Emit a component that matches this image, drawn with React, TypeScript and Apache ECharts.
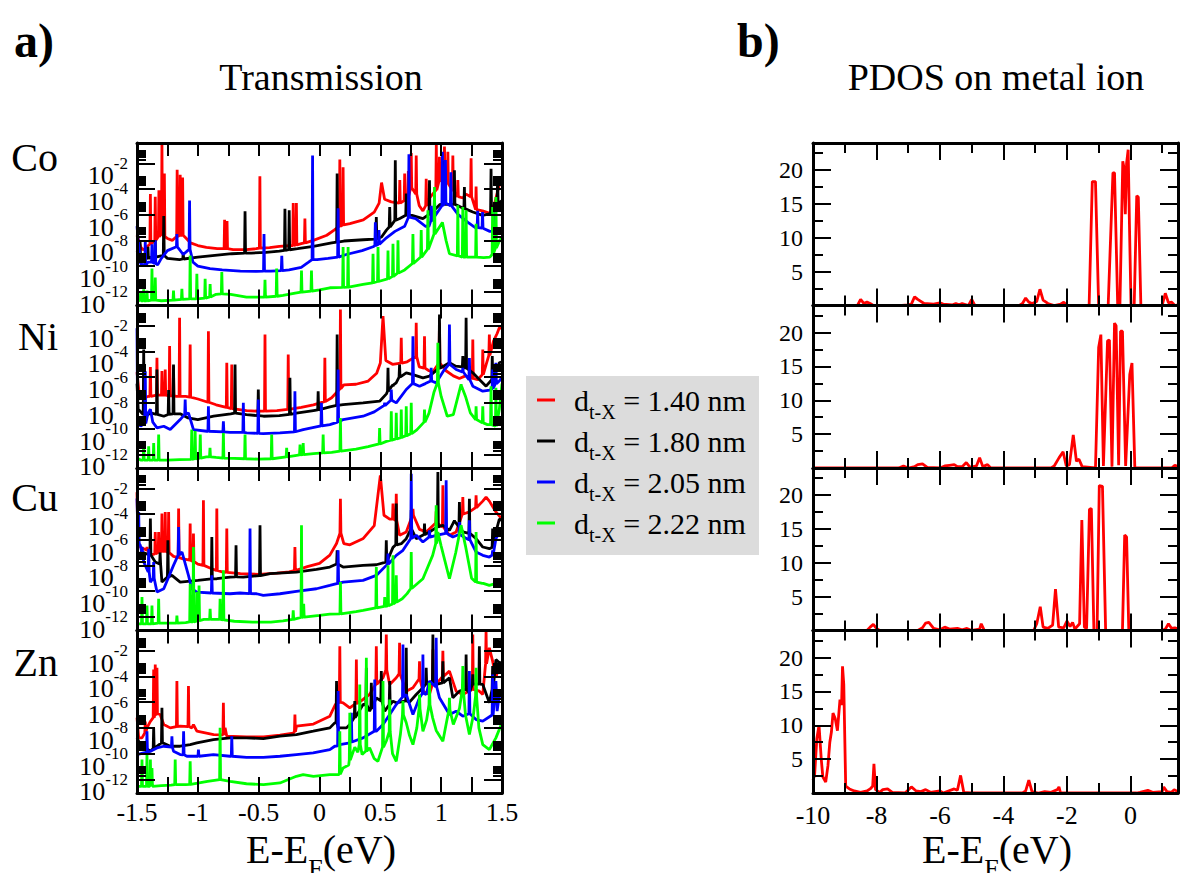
import React, { useEffect, useRef } from "react";
import * as echarts from "echarts";

const FONT = "'Liberation Serif', 'Times New Roman', serif";

const metals = ["Co", "Ni", "Cu", "Zn"];
const distances = ["1.40 nm", "1.80 nm", "2.05 nm", "2.22 nm"];
const lineColors = ["#ff0000", "#000000", "#0000ff", "#00ff00"];

// axis tick / label values
const transXTicks = [-1.25, -1, -0.75, -0.5, -0.25, 0, 0.25, 0.5, 0.75, 1, 1.25];
const transXLabels = [-1.5, -1, -0.5, 0, 0.5, 1, 1.5];
const logMajor = [-12, -10, -8, -6, -4, -2];
const logLabelsA = [-12, -8, -4];
const logLabelsB = [-10, -6, -2];
const logMinorFactors = [2, 3, 4, 5, 6, 7, 8, 9];
const pdosXMajor = [-8, -6, -4, -2, 0];
const pdosXMinor = [-9, -7, -5, -3, -1, 1];
const pdosXLabels = [-10, -8, -6, -4, -2, 0];
const pdosYMajor = [5, 10, 15, 20];
const pdosYMinor = [2.5, 7.5, 12.5, 17.5, 22.5];

// Transmission: entries are [E-EF (eV), log10 T] or a resonance [E-EF, log10 T base, log10 T peak]
const co140 = [
  [-1.5, -7.6], [-1.47, -8.5], [-1.45, -8.75], [-1.42, -8.5],
  [-1.39, -8.3, -4.4], [-1.35, -8.0, -4.6], [-1.32, -7.7, -4.1], [-1.295, -7.5, -0.4], [-1.275, -7.7, -2.8],
  [-1.25, -7.85], [-1.21, -8.0],
  [-1.17, -7.7, -2.5], [-1.145, -7.6, -2.9], [-1.125, -7.6, -3.1],
  [-1.1, -7.8], [-1.06, -8.2], [-1.0, -8.4], [-0.93, -8.55], [-0.84, -8.65],
  [-0.78, -8.65, -6.4], [-0.76, -8.65, -6.5],
  [-0.71, -8.72], [-0.6, -8.72], [-0.52, -8.65],
  [-0.49, -8.6, -3.0],
  [-0.41, -8.57], [-0.33, -8.47],
  [-0.216, -8.4, -5.1], [-0.19, -8.35, -5.1],
  [-0.15, -8.26], [-0.12, -8.2, -6.3],
  [-0.05, -8.0], [0.06, -7.6], [0.12, -7.2],
  [0.167, -6.9, -1.7], [0.194, -6.8, -2.3],
  [0.25, -6.7], [0.36, -6.4], [0.45, -5.8], [0.49, -5.1], [0.51, -3.5], [0.535, -4.8], [0.59, -5.0],
  [0.66, -5.1, -3.3], [0.7, -4.9, -2.8], [0.73, -4.5, -2.6], [0.754, -3.9, -1.2], [0.795, -4.4, -1.4],
  [0.82, -5.3], [0.85, -5.7], [0.877, -5.3, -3.2], [0.905, -4.7],
  [0.96, -4.1, -0.5], [0.986, -3.4, -1.5], [1.027, -3.1, -0.7], [1.055, -3.6, -1.1], [1.096, -4.1, -1.4], [1.137, -4.6, -3.3],
  [1.178, -4.7], [1.205, -4.4], [1.246, -4.6, -1.6], [1.287, -5.6, -3.8],
  [1.34, -5.7], [1.4, -5.9], [1.44, -5.1], [1.48, -3.6], [1.5, -3.2],
];
const co180 = [
  [-1.5, -8.8], [-1.475, -9.2, -8.0], [-1.45, -9.4], [-1.41, -9.4, -8.5], [-1.38, -9.3], [-1.35, -9.3, -8.0],
  [-1.28, -9.17, -6.1], [-1.25, -9.4], [-1.15, -9.5], [-1.12, -9.45, -9.0], [-1.0, -9.3], [-0.86, -9.17], [-0.72, -9.04],
  [-0.612, -8.99, -5.74], [-0.56, -8.99], [-0.44, -8.94], [-0.33, -8.83],
  [-0.284, -8.78, -5.53], [-0.249, -8.73, -5.66], [-0.18, -8.65], [-0.05, -8.47], [0.1, -8.2],
  [0.145, -8.13, -2.8], [0.2, -8.05], [0.36, -7.95], [0.45, -7.9], [0.467, -7.87, -6.18], [0.51, -7.74], [0.55, -7.2],
  [0.577, -6.96, -5.4], [0.623, -6.44, -1.77], [0.66, -6.3], [0.713, -6.05, -4.36], [0.76, -6.05], [0.85, -6.31],
  [0.904, -5.97, -3.32], [0.99, -5.2], [1.027, -5.2, -1.8], [1.109, -5.2, -2.55], [1.14, -5.3], [1.191, -5.53, -3.84],
  [1.26, -5.79], [1.34, -6.05], [1.41, -5.92, -2.42], [1.44, -5.4], [1.464, -5.14, -3.06], [1.5, -4.9],
];
const co205 = [
  [-1.5, -6.9], [-1.49, -8.0], [-1.47, -9.8], [-1.445, -9.95], [-1.432, -9.95, -8.0], [-1.41, -9.7], [-1.377, -9.7, -8.3],
  [-1.35, -9.8, -8.0], [-1.33, -9.9], [-1.3, -9.4], [-1.25, -8.8], [-1.172, -8.5, -7.5], [-1.12, -9.1], [-1.068, -8.7, -4.9],
  [-1.04, -9.7], [-1.0, -10.0], [-0.9, -10.2], [-0.8, -10.3], [-0.65, -10.4], [-0.52, -10.42], [-0.456, -10.4, -7.5],
  [-0.4, -10.4], [-0.31, -10.35, -9.2], [-0.25, -10.3], [-0.15, -10.1], [-0.09, -9.7], [-0.057, -9.5, -1.4], [-0.02, -9.5],
  [0.07, -9.4], [0.153, -9.3, -5.5], [0.22, -9.1], [0.35, -8.8], [0.44, -8.5], [0.459, -8.4, -6.6], [0.489, -8.3, -7.2],
  [0.55, -7.8], [0.62, -7.3], [0.7, -6.9], [0.735, -6.2, -1.3], [0.79, -6.3], [0.87, -6.9], [0.9, -6.9], [0.918, -6.5, -5.3],
  [0.945, -6.1, -4.5], [1.01, -5.3, -1.1], [1.035, -5.1, -1.75], [1.08, -5.3, -2.7], [1.14, -6.0], [1.22, -6.6], [1.28, -7.0],
  [1.3, -7.0, -5.7], [1.34, -7.05, -5.8], [1.4, -7.3], [1.445, -7.3, -5.7], [1.5, -7.3],
];
const co222 = [
  [-1.5, -12.6], [-1.47, -12.7, -12.0], [-1.445, -12.7, -11.8], [-1.418, -12.7, -11.9], [-1.377, -12.65, -10.2], [-1.35, -12.65, -10.9],
  [-1.3, -12.7], [-1.2, -12.65, -11.9], [-1.131, -12.6, -11.77], [-1.063, -12.55, -9.17], [-1.008, -12.55, -10.6],
  [-0.94, -12.5, -11.0], [-0.899, -12.4, -11.4], [-0.85, -12.2], [-0.803, -12.16, -10.47], [-0.73, -12.2], [-0.6, -12.42],
  [-0.448, -12.42, -11.06], [-0.352, -12.35, -10.2], [-0.3, -12.29], [-0.2, -12.1], [-0.148, -12.03, -10.34], [-0.066, -11.95, -10.34],
  [0.0, -11.85], [0.085, -11.69], [0.194, -11.66, -8.52], [0.235, -11.64, -8.52], [0.358, -11.43], [0.44, -11.3, -9.04],
  [0.481, -11.2, -8.52], [0.563, -11.0, -8.8], [0.604, -10.8, -8.26], [0.645, -10.55, -8.0], [0.7, -10.3], [0.768, -9.8, -7.5],
  [0.836, -9.3, -7.2], [0.891, -8.7, -5.66], [0.945, -7.5, -3.84], [1.01, -6.6], [1.04, -8.0], [1.068, -9.04],
  [1.137, -9.2, -5.27], [1.178, -9.3, -5.4], [1.205, -9.3, -5.66], [1.25, -9.3], [1.287, -9.3, -6.7], [1.35, -9.35],
  [1.4, -9.3], [1.423, -9.1, -5.4], [1.45, -8.6, -4.62], [1.48, -8.0], [1.5, -7.8],
];

const ni140 = [
  [-1.5, -5.6], [-1.485, -7.0], [-1.46, -7.7], [-1.44, -7.6, -5.4], [-1.41, -7.5], [-1.39, -7.5, -5.2],
  [-1.336, -7.4, -4.49], [-1.295, -7.4, -5.53], [-1.268, -7.4, -5.4], [-1.232, -7.45, -3.58], [-1.2, -7.45, -5.14],
  [-1.175, -7.5], [-1.15, -7.5, -1.38], [-1.1, -7.5], [-1.063, -7.55, -3.45], [-1.0, -7.7], [-0.913, -7.95, -2.42],
  [-0.85, -8.15], [-0.762, -8.35, -4.88], [-0.721, -8.45, -5.01], [-0.6, -8.6], [-0.5, -8.65], [-0.448, -8.65, -2.68],
  [-0.35, -8.6], [-0.257, -8.5, -4.23], [-0.15, -8.35], [-0.05, -8.15], [0.044, -7.9, -4.49], [0.1, -7.6], [0.15, -7.1],
  [0.172, -6.9, -0.73], [0.2, -6.6], [0.3, -6.55], [0.4, -6.3], [0.47, -5.7], [0.5, -4.9], [0.522, -1.25], [0.545, -4.7],
  [0.6, -5.0], [0.672, -4.9, -2.94], [0.72, -4.8], [0.795, -4.4, -1.77], [0.82, -5.2], [0.863, -5.3, -2.81], [0.9, -5.5],
  [0.93, -5.6], [0.986, -4.9, -1.77], [1.04, -5.5], [1.1, -5.9], [1.15, -6.1], [1.2, -5.9], [1.26, -6.1, -3.06], [1.3, -6.2],
  [1.342, -5.8, -3.84], [1.37, -5.0], [1.396, -4.3, -2.68], [1.43, -3.2], [1.46, -2.6], [1.478, -2.16], [1.5, -2.2],
];
const ni180 = [
  [-1.5, -6.5], [-1.49, -8.5], [-1.445, -8.9, -3.84], [-1.42, -9.0], [-1.39, -8.78], [-1.336, -8.9, -5.4], [-1.28, -9.04],
  [-1.24, -8.9, -7.0], [-1.2, -8.85, -5.01], [-1.145, -8.85], [-1.08, -9.17], [-1.0, -9.3], [-0.87, -9.04],
  [-0.73, -8.85], [-0.694, -8.8, -5.01], [-0.6, -8.91], [-0.503, -9.0, -6.96], [-0.46, -9.04], [-0.33, -8.99],
  [-0.243, -8.9, -6.05], [-0.19, -8.8], [-0.05, -8.6], [-0.011, -8.55, -7.09], [0.085, -8.31], [0.145, -8.2, -2.68],
  [0.194, -8.13], [0.358, -8.0], [0.494, -7.87], [0.55, -7.3], [0.563, -7.1, -5.27], [0.604, -6.6, -6.7], [0.63, -6.44],
  [0.658, -6.0, -5.01], [0.713, -5.66], [0.768, -5.8], [0.85, -6.05], [0.904, -5.92], [0.986, -5.3, -1.12],
  [1.068, -4.88], [1.12, -5.14], [1.178, -5.2, -4.36], [1.205, -5.3, -1.38], [1.26, -5.66], [1.314, -6.18],
  [1.369, -6.7], [1.42, -6.2, -4.36], [1.478, -4.88], [1.5, -4.8],
];
const ni205 = [
  [-1.5, -2.2], [-1.495, -9.6], [-1.47, -9.8], [-1.432, -9.6, -5.53], [-1.41, -8.8], [-1.39, -8.5], [-1.37, -9.5],
  [-1.336, -9.95], [-1.28, -9.82], [-1.227, -10.08], [-1.145, -9.3], [-1.104, -8.9, -7.74], [-1.077, -8.78],
  [-1.036, -10.08], [-0.926, -10.21], [-0.913, -10.21, -8.26], [-0.79, -10.25, -9.43], [-0.735, -10.29],
  [-0.626, -10.3, -8.0], [-0.598, -10.34], [-0.503, -10.37, -7.74], [-0.462, -10.39], [-0.325, -10.34],
  [-0.202, -10.25, -7.09], [-0.134, -10.08], [0.016, -9.8, -8.0], [0.085, -9.69], [0.153, -9.5, -5.4],
  [0.194, -9.3], [0.358, -9.04], [0.45, -8.7], [0.536, -8.2, -8.0], [0.59, -7.8, -6.96], [0.631, -8.0], [0.713, -6.96],
  [0.768, -6.5, -2.81], [0.822, -6.7], [0.87, -6.5], [0.918, -6.3, -5.27], [0.959, -6.44], [1.02, -5.5], [1.068, -5.0, -1.9],
  [1.123, -5.4], [1.178, -5.6, -5.27], [1.232, -6.2, -4.5], [1.26, -6.7], [1.342, -7.09], [1.4, -7.0],
  [1.423, -6.9, -5.4], [1.45, -6.5, -4.88], [1.478, -6.3], [1.5, -6.0],
];
const ni222 = [
  [-1.5, -12.3], [-1.47, -12.45], [-1.445, -12.45, -10.99], [-1.404, -12.45, -11.38], [-1.363, -12.45, -11.12],
  [-1.322, -12.45, -10.47], [-1.25, -12.45], [-1.15, -12.42], [-1.05, -12.4, -10.08], [-1.022, -12.35, -10.2],
  [-0.98, -12.3, -10.47], [-0.93, -12.2], [-0.9, -12.2, -11.5], [-0.85, -12.25], [-0.79, -12.3, -10.34], [-0.7, -12.32],
  [-0.612, -12.35, -10.47], [-0.5, -12.38], [-0.393, -12.35, -10.47], [-0.27, -12.2, -11.5], [-0.2, -12.1],
  [-0.16, -12.05, -11.25], [-0.134, -12.03, -11.12], [-0.05, -11.95], [0.03, -11.9, -10.47], [0.1, -11.85],
  [0.172, -11.75, -9.17], [0.3, -11.6], [0.4, -11.4], [0.494, -11.2, -9.95], [0.55, -11.0], [0.59, -10.9, -8.65],
  [0.631, -10.8, -8.78], [0.672, -10.7, -8.52], [0.713, -10.55, -8.26], [0.754, -10.4, -8.0], [0.8, -10.1],
  [0.863, -9.5, -8.52], [0.9, -8.8], [0.94, -7.2], [0.973, -6.44, -3.32], [1.0, -7.5], [1.05, -9.04], [1.1, -8.91],
  [1.164, -6.7, -6.57], [1.2, -7.5], [1.24, -8.78], [1.287, -9.3, -8.26], [1.342, -9.56, -8.26], [1.38, -9.69],
  [1.41, -9.7, -6.7], [1.45, -9.82, -6.83], [1.478, -8.5], [1.5, -6.5],
];

const cu140 = [
  [-1.5, -2.3], [-1.492, -6.2], [-1.47, -6.6], [-1.445, -6.7], [-1.418, -6.8, -6.57], [-1.39, -7.2],
  [-1.35, -7.1, -5.4], [-1.322, -7.0, -5.4], [-1.295, -6.9, -3.97], [-1.268, -6.9, -3.84], [-1.24, -7.0, -3.84],
  [-1.2, -7.3], [-1.158, -7.4, -3.58], [-1.12, -7.5], [-1.063, -7.6, -4.75], [-1.036, -7.7, -5.53], [-1.0, -7.9],
  [-0.954, -8.0, -2.94], [-0.9, -8.2], [-0.844, -8.4, -3.58], [-0.8, -8.5], [-0.762, -8.55, -5.14], [-0.65, -8.65],
  [-0.5, -8.7], [-0.35, -8.6], [-0.25, -8.5], [-0.202, -8.4, -6.57], [-0.1, -8.1], [0.0, -7.85], [0.085, -7.2],
  [0.14, -6.3], [0.172, -5.5, -2.81], [0.2, -6.3], [0.25, -6.4], [0.36, -5.9], [0.45, -4.9], [0.5, -0.99],
  [0.53, -4.1], [0.577, -4.4], [0.604, -4.4, -3.19], [0.631, -4.5, -2.42], [0.658, -5.66], [0.713, -5.4],
  [0.768, -4.1, -3.6], [0.822, -5.2], [0.877, -5.4], [0.959, -4.7, -3.8], [1.014, -5.0, -1.77], [1.068, -5.66],
  [1.123, -5.4], [1.178, -4.0, -2.68], [1.232, -3.84], [1.287, -3.5, -2.55], [1.342, -3.0], [1.369, -2.68],
  [1.396, -3.0], [1.45, -3.84], [1.5, -4.4],
];
const cu180 = [
  [-1.5, -7.2], [-1.46, -6.96], [-1.39, -7.2, -4.36], [-1.35, -7.74], [-1.31, -7.9, -7.0], [-1.295, -9.3],
  [-1.246, -8.9, -6.05], [-1.213, -8.78], [-1.145, -9.3], [-1.0, -9.17], [-0.885, -9.05, -5.79], [-0.844, -9.04],
  [-0.735, -8.91], [-0.686, -8.9, -6.44], [-0.626, -8.91], [-0.544, -8.83], [-0.489, -8.8, -4.88], [-0.407, -8.65],
  [-0.19, -8.52], [-0.025, -8.31], [0.085, -8.13], [0.145, -7.9, -6.83], [0.194, -8.13], [0.358, -8.0], [0.467, -7.95],
  [0.549, -7.74, -6.05], [0.604, -6.6], [0.631, -6.4, -3.19], [0.672, -6.31], [0.713, -5.92], [0.754, -5.2, -3.7],
  [0.795, -5.92], [0.863, -5.6, -4.75], [0.904, -5.4], [0.973, -5.0, -0.73], [1.014, -4.88], [1.068, -5.27],
  [1.109, -4.6, -4.5], [1.15, -5.0, -3.06], [1.178, -5.4], [1.232, -5.5, -2.81], [1.287, -5.92], [1.342, -6.57],
  [1.396, -6.7], [1.423, -6.6, -5.14], [1.45, -5.4], [1.478, -4.4], [1.5, -4.5],
];
const cu205 = [
  [-1.5, -2.8], [-1.493, -5.5], [-1.486, -6.3, -3.84], [-1.473, -6.44], [-1.459, -6.9, -6.57], [-1.445, -7.74],
  [-1.404, -8.5, -6.7], [-1.39, -9.3], [-1.363, -9.0, -7.74], [-1.336, -10.08], [-1.28, -9.82], [-1.2, -8.0],
  [-1.158, -7.2, -5.01], [-1.13, -6.96], [-1.077, -8.78], [-1.05, -9.82], [-1.008, -10.08], [-0.885, -10.15, -8.78],
  [-0.735, -10.21], [-0.653, -10.15], [-0.571, -10.2, -5.14], [-0.517, -10.21], [-0.462, -10.34], [-0.325, -10.21],
  [-0.19, -10.03], [-0.025, -9.82], [0.085, -9.56], [0.153, -9.4, -6.83], [0.194, -9.3], [0.358, -9.17],
  [0.467, -8.78], [0.549, -8.0], [0.563, -7.9, -7.09], [0.631, -7.22], [0.686, -6.83], [0.754, -5.9, -0.86],
  [0.795, -5.66], [0.85, -6.18], [0.904, -5.8, -5.27], [0.959, -5.66], [1.041, -5.5, -1.38], [1.096, -5.79],
  [1.15, -5.6, -4.62], [1.205, -5.9], [1.232, -6.0, -4.49], [1.287, -6.96], [1.342, -7.22], [1.396, -7.35],
  [1.423, -7.2, -6.83], [1.45, -5.92], [1.478, -5.5, -5.14], [1.5, -5.6],
];
const cu222 = [
  [-1.5, -12.55], [-1.459, -12.55, -10.47], [-1.418, -12.55, -11.12], [-1.377, -12.55, -11.12], [-1.322, -12.5, -10.6],
  [-1.25, -12.5], [-1.172, -12.5, -11.9], [-1.1, -12.45], [-1.063, -12.4, -9.43], [-1.036, -12.4, -6.57],
  [-1.008, -12.35, -10.08], [-0.99, -12.3, -9.56], [-0.95, -12.2], [-0.899, -12.2, -11.38], [-0.85, -12.2],
  [-0.817, -12.2, -10.6], [-0.79, -12.25, -8.39], [-0.7, -12.35], [-0.55, -12.42], [-0.4, -12.42], [-0.3, -12.32],
  [-0.216, -12.2, -11.5], [-0.148, -12.05, -4.88], [-0.13, -12.03, -11.0], [0.0, -11.9], [0.085, -11.8],
  [0.172, -11.77, -9.3], [0.3, -11.6], [0.358, -11.5], [0.467, -11.3, -8.13], [0.536, -11.2, -10.47],
  [0.563, -11.15, -8.0], [0.604, -11.0, -7.22], [0.631, -10.86, -8.78], [0.68, -10.6], [0.72, -10.2], [0.754, -9.8, -6.96],
  [0.85, -9.04], [0.93, -7.22], [0.959, -6.3, -3.32], [0.973, -5.4], [1.0, -6.5], [1.068, -9.04], [1.12, -7.0],
  [1.164, -4.88], [1.2, -6.5], [1.25, -9.0], [1.287, -9.3, -5.4], [1.342, -9.4, -9.43], [1.396, -9.56], [1.45, -9.4], [1.5, -9.17],
];

const zn140 = [
  [-1.5, -7.2], [-1.486, -8.78], [-1.459, -8.78], [-1.432, -8.4, -7.5], [-1.418, -8.0], [-1.39, -7.5],
  [-1.363, -7.2, -3.45], [-1.35, -7.0, -3.06], [-1.336, -6.9, -3.32], [-1.31, -6.96], [-1.28, -7.74], [-1.227, -8.0],
  [-1.172, -7.9, -4.36], [-1.145, -7.87], [-1.077, -7.9, -4.75], [-1.05, -8.0], [-1.036, -7.74], [-1.008, -8.26],
  [-0.87, -8.52], [-0.79, -8.55, -6.05], [-0.776, -8.0], [-0.762, -8.65], [-0.6, -8.7], [-0.46, -8.7], [-0.325, -8.57],
  [-0.216, -8.4], [-0.202, -8.3, -6.96], [-0.189, -7.87], [-0.05, -7.7], [0.085, -7.09], [0.13, -6.18],
  [0.167, -6.0, -1.64], [0.194, -6.05], [0.249, -6.44], [0.303, -6.1, -2.68], [0.358, -5.79], [0.412, -5.4],
  [0.467, -4.6, -1.64], [0.522, -4.1], [0.549, -3.5, -0.73], [0.577, -4.62], [0.631, -4.1], [0.658, -3.8, -1.38],
  [0.713, -5.14], [0.768, -4.88], [0.822, -4.2, -2.81], [0.85, -5.14], [0.904, -5.4], [0.932, -4.6, -1.9],
  [0.986, -4.3], [1.014, -4.0, -2.0], [1.068, -3.58], [1.123, -5.14], [1.178, -5.4], [1.26, -5.0, -0.73],
  [1.314, -5.14], [1.342, -5.4], [1.369, -3.0, -0.47], [1.396, -1.77], [1.423, -2.81], [1.45, -4.1], [1.478, -3.06], [1.5, -3.2],
];
const zn180 = [
  [-1.5, -8.78], [-1.473, -9.3], [-1.39, -9.82], [-1.363, -9.6, -8.0], [-1.295, -9.17, -6.44], [-1.28, -9.2],
  [-1.227, -9.43], [-1.145, -9.43], [-1.063, -9.3], [-1.008, -9.17], [-0.872, -8.91], [-0.735, -8.78], [-0.6, -8.78],
  [-0.462, -8.83], [-0.325, -8.65], [-0.19, -8.52], [-0.052, -8.26], [0.085, -8.0], [0.125, -7.61],
  [0.14, -7.6, -4.36], [0.153, -8.0], [0.222, -8.0], [0.249, -7.74], [0.29, -7.2, -5.92], [0.358, -6.18],
  [0.385, -6.2, -3.32], [0.412, -6.7], [0.426, -6.5, -4.49], [0.467, -5.66], [0.508, -5.9, -3.58], [0.536, -6.7],
  [0.577, -6.2, -4.36], [0.604, -5.92], [0.631, -6.05], [0.713, -5.9, -1.77], [0.74, -6.0], [0.795, -5.4],
  [0.85, -4.88], [0.877, -4.6, -3.32], [0.932, -4.5, -0.73], [0.959, -4.62], [1.014, -4.5, -2.81], [1.068, -4.1],
  [1.096, -5.66], [1.15, -5.14], [1.205, -5.0, -2.29], [1.232, -5.27], [1.26, -4.6, -3.84], [1.314, -4.6, -1.64],
  [1.342, -4.62], [1.396, -6.05], [1.423, -5.0, -3.19], [1.45, -2.68], [1.478, -2.94], [1.5, -2.9],
];
const zn205 = [
  [-1.5, -10.08], [-1.445, -9.95], [-1.418, -9.9, -8.26], [-1.39, -9.82], [-1.336, -9.56], [-1.28, -9.43],
  [-1.213, -9.5, -8.65], [-1.2, -9.82], [-1.145, -10.08], [-1.117, -10.1, -8.26], [-1.09, -10.21], [-1.008, -10.21],
  [-0.995, -10.21, -9.69], [-0.872, -10.08], [-0.735, -10.21], [-0.721, -10.21, -8.65], [-0.6, -10.29], [-0.462, -10.29],
  [-0.325, -10.21], [-0.19, -10.08], [-0.052, -9.95], [0.085, -9.69], [0.125, -9.43], [0.153, -9.4, -5.14],
  [0.167, -9.3], [0.249, -9.17], [0.262, -9.1, -6.83], [0.358, -8.78], [0.454, -8.26, -4.23], [0.467, -8.26],
  [0.522, -7.74], [0.577, -6.96], [0.631, -6.18], [0.686, -5.6, -1.51], [0.713, -5.4], [0.768, -6.96], [0.822, -5.66],
  [0.85, -5.3, -2.29], [0.877, -5.4], [0.904, -4.36], [0.959, -4.8, -0.99], [0.986, -5.66], [1.068, -6.96],
  [1.123, -6.7], [1.178, -7.09], [1.232, -6.9, -3.58], [1.287, -7.35], [1.342, -7.48], [1.423, -7.0, -3.84],
  [1.45, -4.36], [1.46, -6.7], [1.478, -5.4], [1.5, -5.6],
];
const zn222 = [
  [-1.5, -12.55], [-1.459, -12.55, -10.47], [-1.418, -12.55, -10.08], [-1.39, -12.55, -10.47], [-1.377, -12.55, -11.12],
  [-1.3, -12.5], [-1.22, -12.45], [-1.186, -12.42, -10.47], [-1.1, -12.42], [-1.063, -12.4, -10.6], [-0.92, -12.16],
  [-0.817, -12.03, -8.0], [-0.735, -12.16], [-0.6, -12.35], [-0.46, -12.42], [-0.325, -12.29], [-0.19, -11.77],
  [-0.134, -11.64], [-0.05, -11.77], [0.085, -11.64], [0.153, -11.64], [0.167, -11.6, -8.26], [0.194, -11.12],
  [0.24, -10.9], [0.249, -10.5, -6.83], [0.29, -9.5], [0.315, -9.9], [0.331, -9.3, -4.62], [0.35, -10.08], [0.385, -9.8, -2.55], [0.412, -9.56],
  [0.45, -10.4], [0.48, -10.6], [0.522, -9.5, -4.36], [0.55, -9.0], [0.577, -8.3, -5.8], [0.6, -10.0], [0.631, -10.6], [0.665, -8.5],
  [0.686, -7.0, -5.92], [0.713, -7.6], [0.74, -8.6], [0.768, -9.3], [0.8, -8.0], [0.822, -6.5, -5.4], [0.85, -8.26], [0.88, -7.4],
  [0.904, -6.2, -4.49], [0.93, -7.22], [0.959, -8.2], [1.014, -9.04], [1.045, -7.5], [1.068, -6.6, -5.66],
  [1.1, -7.74], [1.15, -6.5], [1.178, -5.0, -3.19], [1.2, -7.0], [1.232, -8.52], [1.265, -7.0], [1.287, -5.5, -3.32], [1.31, -8.0], [1.342, -9.3], [1.396, -9.69], [1.45, -8.78], [1.5, -7.6],
];

// PDOS on the metal ion: [E-EF (eV), PDOS]
const coPdos = [
  [-10, 0], [-8.6, 0], [-8.5, 0.9], [-8.4, 0.3], [-8.3, 0.5], [-8.2, 0.3], [-8.1, 0], [-7.2, 0], [-7.0, 0.1], [-6.9, 0.2],
  [-6.8, 1.3], [-6.7, 0.9], [-6.5, 0.3], [-6.2, 0.2], [-6.0, 0.4], [-5.9, 0.2], [-5.6, 0.1], [-5.5, 0.3], [-5.4, 0.1],
  [-5.3, 0.3], [-5.1, 0], [-5.0, 0.9], [-4.9, 0], [-3.5, 0], [-3.4, 0.3], [-3.3, 1.1], [-3.2, 0.5], [-3.1, 0.3],
  [-2.95, 0.6], [-2.85, 2.4], [-2.75, 0.8], [-2.6, 0.3], [-2.4, 0], [-2.2, 0.2], [-2.1, 0.5], [-2.0, 0], [-1.3, 0],
  [-1.2, 18.3], [-1.1, 18.3], [-1.0, 0], [-0.7, 0], [-0.55, 19.6], [-0.5, 19.6], [-0.4, 0], [-0.33, 0], [-0.24, 21.3],
  [-0.2, 20.3], [-0.16, 13.5], [-0.12, 21.0], [-0.07, 23.0], [-0.03, 12.0], [0.02, 0], [0.12, 0], [0.2, 16.2],
  [0.25, 16.0], [0.33, 0], [1.0, 0], [1.1, 1.8], [1.2, 0.4], [1.3, 0.5], [1.4, 0.0], [1.5, 0.1],
];
const niPdos = [
  [-10, 0], [-7.3, 0], [-7.15, 0.3], [-7.0, 0], [-6.8, 0.2], [-6.7, 0.5], [-6.55, 0.6], [-6.4, 0.1], [-6.0, 0],
  [-5.85, 0.3], [-5.7, 0.4], [-5.55, 0.5], [-5.45, 0.2], [-5.3, 0.2], [-5.17, 0.8], [-5.05, 0.1], [-4.85, 0.3],
  [-4.75, 1.5], [-4.65, 0.2], [-4.5, 0.5], [-4.4, 0], [-2.5, 0], [-2.4, 0.3], [-2.25, 1.5], [-2.12, 2.4], [-2.02, 0.3],
  [-1.92, 0.5], [-1.8, 4.9], [-1.7, 1.0], [-1.62, 1.3], [-1.52, 0.2], [-1.1, 0], [-1.0, 17.8], [-0.93, 19.7],
  [-0.85, 0.3], [-0.72, 18.8], [-0.66, 18.9], [-0.58, 0.2], [-0.5, 21.4], [-0.45, 21.0], [-0.37, 0.4], [-0.31, 20.2],
  [-0.25, 20.2], [-0.15, 0.3], [-0.02, 13.8], [0.05, 15.5], [0.14, 0], [1.3, 0], [1.4, 0.4], [1.5, 0.2],
];
const cuPdos = [
  [-10, 0], [-8.3, 0], [-8.2, 0.5], [-8.1, 0.9], [-8.0, 0.3], [-7.9, 0], [-6.7, 0], [-6.55, 0.4], [-6.45, 1.1],
  [-6.35, 1.2], [-6.2, 0.3], [-6.0, 0.1], [-5.85, 0.5], [-5.7, 0.2], [-5.45, 0.3], [-5.3, 0.1], [-5.15, 0.3], [-5.0, 0],
  [-4.75, 0.2], [-4.7, 1.0], [-4.6, 0], [-3.05, 0], [-2.95, 1.0], [-2.84, 3.5], [-2.75, 0.5], [-2.6, 0.3], [-2.45, 0.8],
  [-2.36, 6.1], [-2.26, 0.5], [-2.1, 0.4], [-2.0, 1.4], [-1.9, 0.6], [-1.82, 1.2], [-1.75, 0.2], [-1.6, 1.0],
  [-1.53, 16.3], [-1.45, 0.5], [-1.38, 0.3], [-1.29, 17.9], [-1.23, 18.0], [-1.15, 0], [-1.05, 0], [-0.98, 21.4],
  [-0.88, 21.3], [-0.78, 0], [-0.25, 0], [-0.18, 14.1], [-0.12, 13.8], [-0.05, 0], [1.0, 0], [1.1, 0.2], [1.2, 1.0],
  [1.3, 0.3], [1.4, 0.4], [1.5, 0.2],
];
const znPdos = [
  [-10, 1.9], [-9.95, 2.6], [-9.88, 8.0], [-9.81, 10.0], [-9.74, 5.0], [-9.69, 2.4], [-9.6, 1.6], [-9.53, 4.0],
  [-9.47, 7.5], [-9.42, 9.0], [-9.37, 11.8], [-9.3, 11.0], [-9.23, 9.2], [-9.15, 13.8], [-9.1, 13.0], [-9.07, 18.7],
  [-9.03, 16.0], [-8.97, 1.0], [-8.85, 0.6], [-8.7, 0.3], [-8.5, 0.1], [-8.3, 0.3], [-8.2, 0.6], [-8.12, 1.0],
  [-8.08, 4.3], [-8.03, 0.5], [-7.9, 0.1], [-7.8, 0.5], [-7.65, 0.6], [-7.5, 0.1], [-7.1, 0], [-6.9, 0.9], [-6.75, 0.3],
  [-6.6, 0.2], [-6.45, 0.5], [-6.3, 0.1], [-6.0, 0.3], [-5.9, 0], [-5.55, 0.6], [-5.45, 0.4], [-5.35, 2.6], [-5.25, 0.1],
  [-5.0, 0], [-3.4, 0], [-3.3, 0.3], [-3.2, 1.9], [-3.1, 0.2], [-2.9, 0], [-2.7, 0.2], [-2.5, 0.1], [-2.3, 0.5],
  [-2.25, 0.9], [-2.2, 0], [0.2, 0], [0.3, 0.1], [0.55, 0.4], [0.7, 0.1], [1.0, 0.2], [1.05, 0.9], [1.15, 0.2],
  [1.3, 0.1], [1.38, 0.5], [1.5, 0.2],
];

const transmission = [
  [co140, co180, co205, co222],
  [ni140, ni180, ni205, ni222],
  [cu140, cu180, cu205, cu222],
  [zn140, zn180, zn205, zn222],
];
const pdos = [coPdos, niPdos, cuPdos, znPdos];

// layout (pixels)
const ROW_TOP = 143;
const ROW_H = 162.5;
const PANEL_W = 365;
const LEFT_A = 137;
const LEFT_B = 813;
const T_MIN = -13.07;
const T_MAX = -0.42;
const RESONANCE_HALF_WIDTH = 0.004;
const LABEL_Y = [157, 336, 497, 662];
const LINE_W = 2.8;

function expand(entries: number[][]): number[][] {
  const out: number[][] = [];
  for (const e of entries) {
    if (e.length === 3) {
      out.push([e[0] - RESONANCE_HALF_WIDTH, e[1]], [e[0], e[2]], [e[0] + RESONANCE_HALF_WIDTH, e[1]]);
    } else {
      out.push([e[0], e[1]]);
    }
  }
  return out;
}

const tickStyle = { color: "#000", width: 2 };

function axis(gridIndex: number, position: string, min: number, max: number, ticks: number[] | null, len: number, withLine: boolean, label: any) {
  return {
    type: "value",
    gridIndex,
    position,
    min,
    max,
    z: 5,
    axisLine: { show: withLine, onZero: false, lineStyle: { color: "#000", width: 3 } },
    splitLine: { show: false },
    minorTick: { show: false },
    axisTick: ticks
      ? { show: true, inside: true, length: len, lineStyle: tickStyle, customValues: ticks }
      : { show: false },
    axisLabel: label
      ? { show: true, color: "#000", fontFamily: FONT, showMinLabel: true, showMaxLabel: true, hideOverlap: false, ...label }
      : { show: false },
  };
}

const powerLabel = (values: number[]) => ({
  customValues: values,
  margin: 9,
  formatter: (v: number) => `{b|10}{s|${v}}`,
  rich: {
    b: { fontSize: 26, fontFamily: FONT, color: "#000", lineHeight: 25, padding: [12, 0, 0, 0], verticalAlign: "top" },
    s: { fontSize: 17, fontFamily: FONT, color: "#000", lineHeight: 17, padding: [4, 0, 0, 0], verticalAlign: "top" },
  },
});

function text(t: string, x: number, y: number, size: number, align: string, bold = false) {
  return {
    type: "text",
    x,
    y,
    silent: true,
    style: {
      text: t,
      fill: "#000",
      font: `${bold ? "bold " : ""}${size}px ${FONT}`,
      align,
      verticalAlign: "middle",
      textAlign: align,
      textVerticalAlign: "middle",
    },
  };
}

function axisTitle(cx: number) {
  return {
    type: "text",
    x: cx,
    y: 829,
    silent: true,
    style: {
      text: "{a|E-E}{f|F}{a|(eV)}",
      fill: "#000",
      align: "center",
      verticalAlign: "top",
      textAlign: "center",
      textVerticalAlign: "top",
      rich: {
        a: { fontSize: 40, fontFamily: FONT, lineHeight: 40, verticalAlign: "top", fill: "#000" },
        f: { fontSize: 26, fontFamily: FONT, lineHeight: 26, padding: [26, 0, 0, 0], verticalAlign: "top", fill: "#000" },
      },
    },
  };
}

function buildOption() {
  const grid: any[] = [];
  const xAxis: any[] = [];
  const yAxis: any[] = [];
  const series: any[] = [];
  const logMinor: number[] = [];
  for (const n of logMajor) for (const k of logMinorFactors) logMinor.push(n + Math.log10(k));

  for (let r = 0; r < 4; r++) {
    const top = ROW_TOP + r * ROW_H;
    const bottomRow = r === 3;

    // ---- transmission panel
    let gi = grid.length;
    grid.push({ left: LEFT_A, top, width: PANEL_W, height: ROW_H, containLabel: false, outerBoundsMode: "none", show: false });
    let xi = xAxis.length;
    xAxis.push(axis(gi, "bottom", -1.5, 1.5, transXTicks, 16, true,
      bottomRow ? { customValues: transXLabels, fontSize: 26, margin: 6, formatter: (v: number) => String(v) } : null));
    xAxis.push(axis(gi, "top", -1.5, 1.5, transXTicks, 13, true, null));
    let yi = yAxis.length;
    yAxis.push(axis(gi, "left", T_MIN, T_MAX, logMajor, 18, true, powerLabel(logLabelsA)));
    yAxis.push(axis(gi, "left", T_MIN, T_MAX, null, 0, false, powerLabel(logLabelsB)));
    yAxis.push(axis(gi, "left", T_MIN, T_MAX, logMinor, 9, false, null));
    yAxis.push(axis(gi, "right", T_MIN, T_MAX, logMajor, 18, true, null));
    yAxis.push(axis(gi, "right", T_MIN, T_MAX, logMinor, 9, false, null));
    transmission[r].forEach((d, i) => {
      series.push({
        type: "line",
        name: distances[i],
        xAxisIndex: xi,
        yAxisIndex: yi,
        data: expand(d),
        symbol: "none",
        showSymbol: false,
        clip: true,
        z: 2,
        lineStyle: { color: lineColors[i], width: LINE_W },
        itemStyle: { color: lineColors[i] },
      });
    });

    // ---- PDOS panel
    gi = grid.length;
    grid.push({ left: LEFT_B, top, width: PANEL_W, height: ROW_H, containLabel: false, outerBoundsMode: "none", show: false });
    xi = xAxis.length;
    xAxis.push(axis(gi, "bottom", -10, 1.5, pdosXMajor, 17, true,
      bottomRow ? { customValues: pdosXLabels, fontSize: 26, margin: 9, formatter: (v: number) => String(v) } : null));
    xAxis.push(axis(gi, "bottom", -10, 1.5, pdosXMinor, 10, false, null));
    xAxis.push(axis(gi, "top", -10, 1.5, pdosXMajor, 17, true, null));
    xAxis.push(axis(gi, "top", -10, 1.5, pdosXMinor, 10, false, null));
    yi = yAxis.length;
    yAxis.push(axis(gi, "left", 0, 24, pdosYMajor, 18, true, { customValues: pdosYMajor, fontSize: 24, margin: 10 }));
    yAxis.push(axis(gi, "left", 0, 24, pdosYMinor, 10, false, null));
    yAxis.push(axis(gi, "right", 0, 24, pdosYMajor, 18, true, null));
    yAxis.push(axis(gi, "right", 0, 24, pdosYMinor, 10, false, null));
    series.push({
      type: "line",
      name: `PDOS ${metals[r]}`,
      xAxisIndex: xi,
      yAxisIndex: yi,
      data: pdos[r],
      symbol: "none",
      showSymbol: false,
      clip: true,
      z: 2,
      lineStyle: { color: "#ff0000", width: LINE_W },
      itemStyle: { color: "#ff0000" },
    });
  }

  const graphic: any[] = [
    { type: "rect", shape: { x: 526, y: 376, width: 233, height: 179 }, style: { fill: "#dcdcdc" }, silent: true, z: 0 },
    text("a)", 14, 40, 48, "left", true),
    text("b)", 737, 40, 48, "left", true),
    text("Transmission", 321, 77, 38, "center"),
    text("PDOS on metal ion", 996, 77, 38, "center"),
    axisTitle(321),
    axisTitle(997),
  ];
  metals.forEach((m, i) => graphic.push(text(m, 58, LABEL_Y[i], 40, "right")));

  return {
    animation: false,
    backgroundColor: "#ffffff",
    textStyle: { fontFamily: FONT, color: "#000" },
    grid,
    xAxis,
    yAxis,
    series,
    graphic,
    legend: {
      show: true,
      data: distances,
      orient: "vertical",
      left: 537,
      top: 385,
      padding: 0,
      itemGap: 4,
      itemWidth: 18,
      itemHeight: 3,
      icon: "rect",
      selectedMode: false,
      backgroundColor: "transparent",
      formatter: (name: string) => `{d|d}{s|t-X}{r| = ${name}}`,
      textStyle: {
        color: "#000",
        fontFamily: FONT,
        rich: {
          d: { fontSize: 30, fontFamily: FONT, color: "#000", lineHeight: 30, padding: [0, 0, 0, 14], verticalAlign: "top" },
          s: { fontSize: 20, fontFamily: FONT, color: "#000", lineHeight: 19, padding: [17, 0, 0, 0], verticalAlign: "top" },
          r: { fontSize: 30, fontFamily: FONT, color: "#000", lineHeight: 30, verticalAlign: "top" },
        },
      },
    },
  };
}

export default function App() {
  const ref = useRef<HTMLDivElement>(null);
  useEffect(() => {
    if (!ref.current) return;
    const chart = echarts.init(ref.current, null, { renderer: "svg" });
    chart.setOption(buildOption() as any);
    return () => {
      chart.dispose();
    };
  }, []);
  return (
    <div
      ref={ref}
      style={{ position: "absolute", left: 0, top: 0, width: 1184, height: 873, background: "#fff" }}
    />
  );
}
